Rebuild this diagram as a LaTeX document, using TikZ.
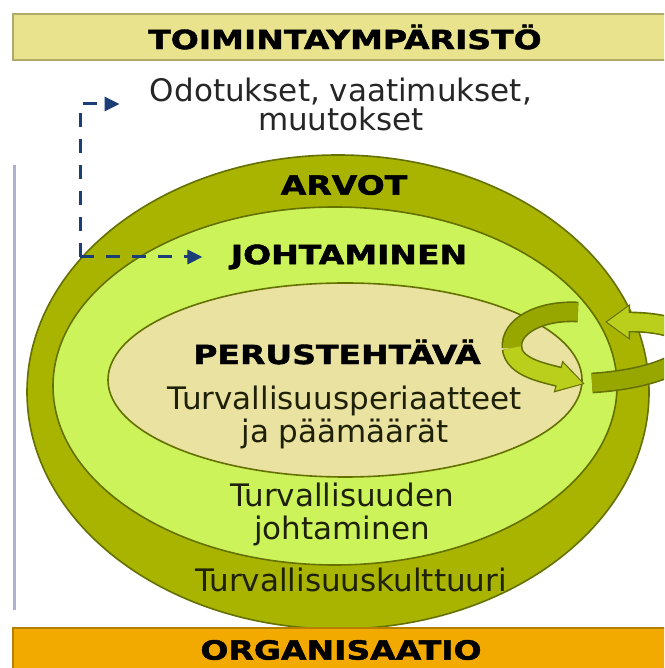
\documentclass[tikz,border=0pt]{standalone}
\usepackage{fontspec}
\setmainfont{DejaVu Sans}
\newfontfamily\headfont{DejaVu Sans}[BoldFeatures={FakeBold=1.5}]
\usepackage{tikz}
\usetikzlibrary{arrows.meta, positioning}

\definecolor{envband}{RGB}{232,227,140}
\definecolor{orgband}{RGB}{242,170,0}
\definecolor{olive}{RGB}{168,180,0}
\definecolor{lime}{RGB}{204,244,90}
\definecolor{beige}{RGB}{234,226,160}
\definecolor{rim}{RGB}{100,112,0}
\definecolor{navy}{RGB}{28,62,118}
\definecolor{txt}{RGB}{30,33,8}
\definecolor{swirldark}{RGB}{152,166,0}
\definecolor{swirllight}{RGB}{186,206,28}

\newcommand{\ttl}[1]{\scalebox{1.25}[1]{\headfont\bfseries #1}}

\begin{document}
\begin{tikzpicture}[x=0.5pt, y=0.5pt,
  band/.style     = {draw=#1!75!black, fill=#1, line width=0.6pt},
  ring/.style     = {draw=rim, fill=#1, line width=0.8pt},
  heading/.style  = {inner sep=0pt, text=black,
                     font=\fontsize{13.2}{14}\selectfont},
  body/.style     = {inner sep=0pt, align=center, text=txt,
                     font=\fontsize{15.5}{16.5}\selectfont},
  flow/.style     = {navy, line width=1.5pt, dash pattern=on 7pt off 6pt,
                     -{Triangle[length=7.5pt,width=7pt]}},
  swirlrim/.style = {rim, line width=10.4pt},
  swirlin/.style  = {#1, line width=8.8pt},
]

\useasboundingbox (0,0) rectangle (664,668);
\clip (0,0) rectangle (664,668);
\fill[white] (0,0) rectangle (664,668);

\draw[band=envband] (13,608) rectangle (666,654);

\draw[ring=olive] (338,276) ellipse [x radius=311, y radius=237];
\draw[ring=lime]  (335,282) ellipse [x radius=282, y radius=179];
\draw[ring=beige] (345,288) ellipse [x radius=237, y radius=97];

\draw[band=orgband] (13,-2) rectangle (666,40);
\draw[blue!25!gray!50, line width=1.5pt] (14,58) -- (14,503);

\draw[swirlrim] (578,356) .. controls (540,358) and (510,342) .. (512,320);
\draw[swirlrim, -{Triangle[length=14pt,width=15.5pt]}]
      (512,320) .. controls (514,300) and (545,295) .. (585,284);
\draw[swirlin=swirldark] (578,356) .. controls (540,358) and (510,342) .. (512,320);
\draw[swirlin=swirllight, shorten >=1pt, -{Triangle[length=12.4pt,width=13.4pt]}]
      (512,320) .. controls (514,300) and (545,295) .. (585,284);

\draw[swirlrim] (592,285) .. controls (640,288) and (680,300) .. (690,318);
\draw[swirlrim, -{Triangle[length=12.5pt,width=17pt]}]
      (690,318) .. controls (695,335) and (670,346) .. (605,346);
\draw[swirlin=swirldark] (592,285) .. controls (640,288) and (680,300) .. (690,318);
\draw[swirlin=swirllight, shorten >=1pt, -{Triangle[length=10.8pt,width=14.8pt]}]
      (690,318) .. controls (695,335) and (670,346) .. (605,346);

\node[heading] (env)    at (345,631) {\ttl{TOIMINTAYMPÄRISTÖ}};
\node[body, text=black!85, font=\fontsize{15.5}{14.5}\selectfont]
               (odotus) at (341,564) {Odotukset, vaatimukset,\\muutokset};
\node[heading] (arvot)  at (344,483) {\ttl{ARVOT}};
\node[heading] (johto)  at (349,411) {\ttl{JOHTAMINEN}};
\node[heading] (perus)  at (337,316) {\ttl{PERUSTEHTÄVÄ}};
\node[body]    (periaa) at (345,251) {Turvallisuusperiaatteet\\ja päämäärät};
\node[body]    (tjohto) at (342,154) {Turvallisuuden\\johtaminen};
\node[body]    (kultt)  at (351,88)  {Turvallisuuskulttuuri};
\node[heading] (org)    at (341,18)  {\ttl{ORGANISAATIO}};

\coordinate (turn) at (80,411);
\draw[flow] (turn) -- ([xshift=-14pt]johto.west);
\draw[flow] (turn) |- ([xshift=-15pt]odotus.west);

\end{tikzpicture}
\end{document}
